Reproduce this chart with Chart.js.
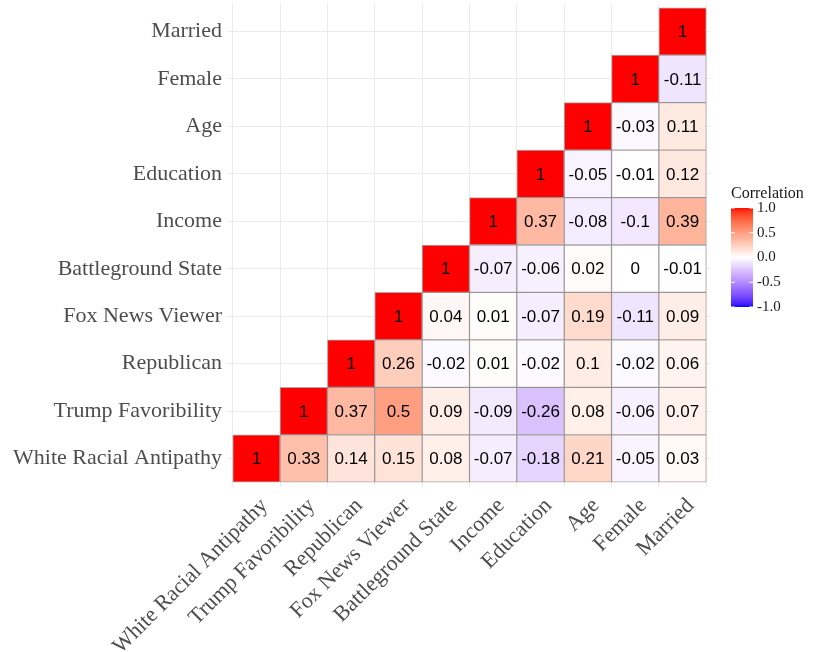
<!DOCTYPE html>
<html>
<head>
<meta charset="utf-8">
<script src="https://cdn.jsdelivr.net/npm/chart.js@4"></script>
<style>
  html, body { margin: 0; padding: 0; background: #fff; }
  #wrap { width: 815px; height: 652px; }
</style>
</head>
<body>
<div id="wrap"><canvas id="corr"></canvas></div>
<script>
// variables, in axis order (x left->right, y bottom->top)
const variables = ['White Racial Antipathy', 'Trump Favoribility', 'Republican', 'Fox News Viewer',
  'Battleground State', 'Income', 'Education', 'Age', 'Female', 'Married'];

// one row per y variable, values across the x variables (null = not shown)
const rowWhite = [1, 0.33, 0.14, 0.15, 0.08, -0.07, -0.18, 0.21, -0.05, 0.03];
const rowTrump = [null, 1, 0.37, 0.5, 0.09, -0.09, -0.26, 0.08, -0.06, 0.07];
const rowRepublican = [null, null, 1, 0.26, -0.02, 0.01, -0.02, 0.1, -0.02, 0.06];
const rowFox = [null, null, null, 1, 0.04, 0.01, -0.07, 0.19, -0.11, 0.09];
const rowBattleground = [null, null, null, null, 1, -0.07, -0.06, 0.02, 0, -0.01];
const rowIncome = [null, null, null, null, null, 1, 0.37, -0.08, -0.1, 0.39];
const rowEducation = [null, null, null, null, null, null, 1, -0.05, -0.01, 0.12];
const rowAge = [null, null, null, null, null, null, null, 1, -0.03, 0.11];
const rowFemale = [null, null, null, null, null, null, null, null, 1, -0.11];
const rowMarried = [null, null, null, null, null, null, null, null, null, 1];

const rows = [rowWhite, rowTrump, rowRepublican, rowFox, rowBattleground,
  rowIncome, rowEducation, rowAge, rowFemale, rowMarried];

const legendTicks = [1.0, 0.5, 0.0, -0.5, -1.0];

// --- colour scale: blue - white - red, interpolated in Lab like ggplot ---
function lin(c) { c /= 255; return c <= 0.04045 ? c / 12.92 : Math.pow((c + 0.055) / 1.055, 2.4); }
function delin(c) { c = c <= 0.0031308 ? 12.92 * c : 1.055 * Math.pow(c, 1 / 2.4) - 0.055; return Math.round(Math.max(0, Math.min(1, c)) * 255); }
function toLab(rgb) {
  const [r, g, b] = rgb.map(lin);
  const f = t => t > 0.008856 ? Math.cbrt(t) : 7.787 * t + 16 / 116;
  const fx = f((0.4124 * r + 0.3576 * g + 0.1805 * b) / 0.95047);
  const fy = f(0.2126 * r + 0.7152 * g + 0.0722 * b);
  const fz = f((0.0193 * r + 0.1192 * g + 0.9505 * b) / 1.08883);
  return [116 * fy - 16, 500 * (fx - fy), 200 * (fy - fz)];
}
function fromLab([L, a, bb]) {
  const fy = (L + 16) / 116, fx = fy + a / 500, fz = fy - bb / 200;
  const inv = t => t * t * t > 0.008856 ? t * t * t : (t - 16 / 116) / 7.787;
  const X = inv(fx) * 0.95047, Y = inv(fy), Z = inv(fz) * 1.08883;
  const r = 3.2406 * X - 1.5372 * Y - 0.4986 * Z;
  const g = -0.9689 * X + 1.8758 * Y + 0.0415 * Z;
  const b = 0.0557 * X - 0.2040 * Y + 1.0570 * Z;
  return `rgb(${delin(r)},${delin(g)},${delin(b)})`;
}
const labBlue = toLab([0, 0, 255]), labWhite = toLab([255, 255, 255]), labRed = toLab([255, 0, 0]);
function corrColor(v) {
  const t = Math.min(1, Math.abs(v));
  const end = v >= 0 ? labRed : labBlue;
  return fromLab(labWhite.map((w, i) => w + (end[i] - w) * t));
}

// --- build datasets: one floating-bar dataset per row ---
const datasets = rows.map((row, yi) => ({
  label: variables[yi],
  data: row.map((v, xi) => v === null ? null : { x: xi, y: [yi - 0.5, yi + 0.5] }).filter(d => d),
  corr: row.filter(v => v !== null),
  backgroundColor: row.filter(v => v !== null).map(corrColor),
  borderColor: 'rgba(110,100,100,0.55)',
  borderWidth: 1,
  borderSkipped: false,
  grouped: false,
  barPercentage: 1,
  categoryPercentage: 1
}));

const gridColor = '#ebebeb';
const labelColor = '#4d4d4d';
const serif = "'Liberation Serif', 'DejaVu Serif', serif";

const cellText = {
  id: 'cellText',
  afterDatasetsDraw(chart) {
    const ctx = chart.ctx;
    ctx.save();
    ctx.font = "17px 'Liberation Sans', Arial, sans-serif";
    ctx.fillStyle = '#000';
    ctx.textAlign = 'center';
    ctx.textBaseline = 'middle';
    chart.data.datasets.forEach((ds, di) => {
      chart.getDatasetMeta(di).data.forEach((el, i) => {
        ctx.fillText(String(ds.corr[i]), el.x, (el.y + el.base) / 2 + 1);
      });
    });
    ctx.restore();
  }
};

const colorBar = {
  id: 'colorBar',
  afterDraw(chart) {
    const ctx = chart.ctx;
    const x0 = 731, w = 22, top = 208, bottom = 307;
    ctx.save();
    for (let y = top; y < bottom; y++) {
      const v = 1 - 2 * (y - top + 0.5) / (bottom - top);
      ctx.fillStyle = corrColor(v);
      ctx.fillRect(x0, y, w, 1);
    }
    ctx.strokeStyle = '#fff';
    ctx.lineWidth = 1;
    ctx.font = "15px " + serif;
    ctx.fillStyle = '#1a1a1a';
    ctx.textAlign = 'left';
    ctx.textBaseline = 'middle';
    legendTicks.forEach(t => {
      const y = top + (1 - t) / 2 * (bottom - top);
      ctx.beginPath();
      ctx.moveTo(x0, y); ctx.lineTo(x0 + 4, y);
      ctx.moveTo(x0 + w - 4, y); ctx.lineTo(x0 + w, y);
      ctx.stroke();
      ctx.fillText(t.toFixed(1), x0 + w + 4, y);
    });
    ctx.font = "16px " + serif;
    ctx.textBaseline = 'alphabetic';
    ctx.fillText('Correlation', x0, 198);
    ctx.restore();
  }
};

const varTicks = scale => { scale.ticks = variables.map((_, i) => ({ value: i })); };

new Chart(document.getElementById('corr'), {
  type: 'bar',
  data: { datasets },
  plugins: [cellText, colorBar],
  options: {
    responsive: true,
    maintainAspectRatio: false,
    animation: false,
    parsing: { xAxisKey: 'x', yAxisKey: 'y' },
    layout: { padding: { left: 4, top: 3, right: 104, bottom: 0 } },
    plugins: { legend: { display: false }, tooltip: { enabled: false } },
    scales: {
      x: {
        type: 'linear',
        min: -0.6,
        max: 9.6,
        offset: false,
        grid: { color: gridColor, drawTicks: false },
        border: { display: false },
        afterBuildTicks: varTicks,
        ticks: {
          color: labelColor,
          font: { family: serif, size: 22 },
          maxRotation: 45,
          minRotation: 45,
          autoSkip: false,
          padding: 6,
          labelOffset: 8,
          callback: v => variables[v]
        },
        afterFit(scale) { scale.height = 165; scale.paddingLeft = 0; scale.paddingRight = 0; }
      },
      y: {
        type: 'linear',
        min: -0.6,
        max: 9.6,
        grid: { color: gridColor, drawTicks: false },
        border: { display: false },
        afterBuildTicks: varTicks,
        ticks: {
          color: labelColor,
          font: { family: serif, size: 22 },
          padding: 6,
          callback: v => variables[v]
        },
        afterFit(scale) { scale.width = 224; scale.paddingTop = 0; scale.paddingBottom = 0; }
      }
    }
  }
});
</script>
</body>
</html>
